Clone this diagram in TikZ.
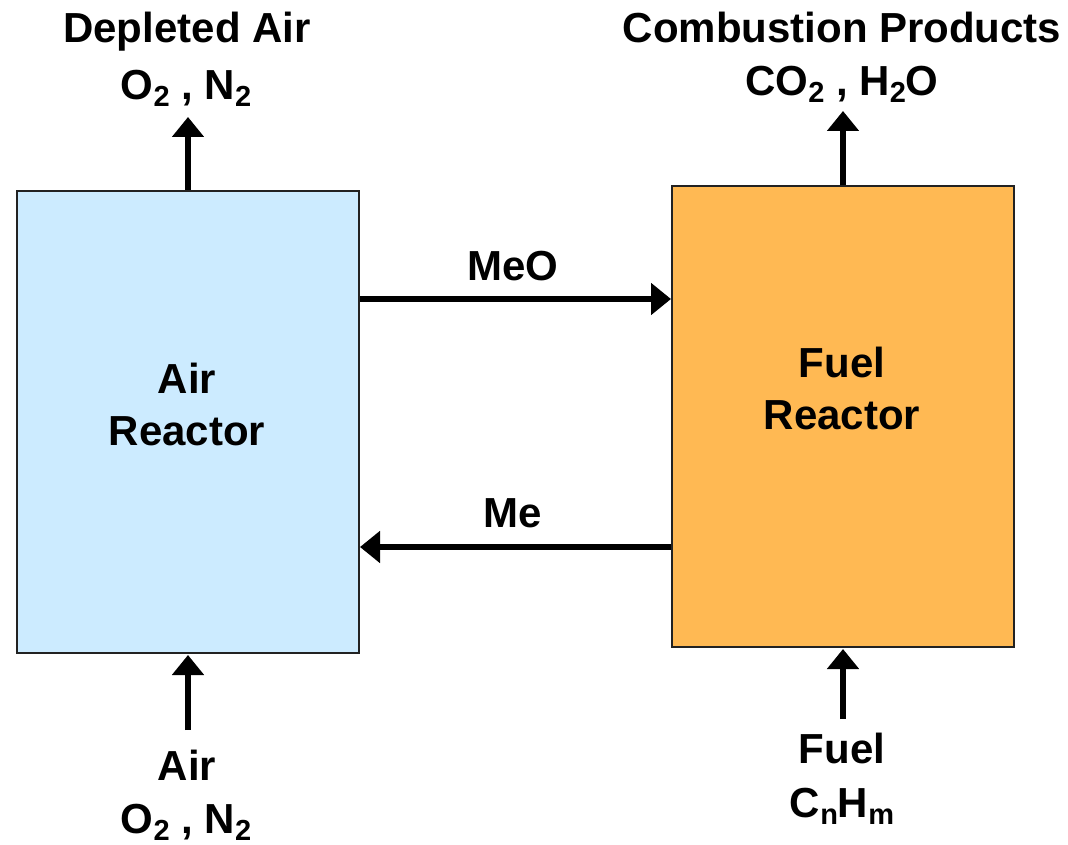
\documentclass[tikz,border=0pt]{standalone}
\usepackage{fontspec}
\setmainfont{Liberation Sans}
\usetikzlibrary{arrows.meta}
\definecolor{airblue}{HTML}{CCEBFF}
\definecolor{fuelorange}{HTML}{FFB953}
\definecolor{edgegray}{HTML}{222222}
\newcommand\sbs[1]{\raisebox{-7pt}{\fontsize{29}{29}\selectfont #1}}
\begin{document}
\begin{tikzpicture}[x=1pt,y=-1pt,
  reactor/.style={draw=edgegray,line width=2pt,rectangle,anchor=north west,inner sep=0pt},
  lbl/.style={font=\fontsize{42}{50}\selectfont\bfseries,anchor=base,inner sep=0pt},
  flow/.style={line width=5.5pt,-{Triangle[length=20pt,width=31pt]}}]
\useasboundingbox (0,0) rectangle (1068,845);
\node[reactor,fill=airblue,minimum width=342pt,minimum height=462pt] (air) at (16,190) {};
\node[reactor,fill=fuelorange,minimum width=342pt,minimum height=461pt] (fuel) at (671,185) {};
% reactor labels
\node[lbl] (airt1) at (187,393) {Air};
\node[lbl] (airt2) at (187,445) {Reactor};
\node[lbl] (fuelt1) at (842,377) {Fuel};
\node[lbl] (fuelt2) at (842,429) {Reactor};
% top labels
\node[lbl] (dep1) at (187,43) {Depleted Air};
\node[lbl] (dep2) at (186,100) {O\sbs{2} , N\sbs{2}};
\node[lbl] (comb1) at (842,43) {Combustion Products};
\node[lbl] (comb2) at (842,96) {CO\sbs{2} , H\sbs{2}O};
% bottom labels
\node[lbl] (in1) at (187,780) {Air};
\node[lbl] (in2) at (186,833) {O\sbs{2} , N\sbs{2}};
\node[lbl] (fin1) at (842,763) {Fuel};
\node[lbl] (fin2) at (842,817) {C\sbs{n}H\sbs{m}};
% middle labels
\node[lbl] (meo) at (513,280) {MeO};
\node[lbl] (me) at (513,527) {Me};
% coordinates
\coordinate (deptip) at ([yshift=73pt]air.north);
\coordinate (combtip) at ([yshift=74pt]fuel.north);
\coordinate (airtail) at ([yshift=-76pt]air.south);
\coordinate (fueltail) at ([yshift=-71pt]fuel.south);
\coordinate (meoA) at ([yshift=-109pt]air.north east);
\coordinate (meA) at ([yshift=-357pt]air.north east);
% connectors
\draw[flow] (air.north) -- (deptip);
\draw[flow] (fuel.north) -- (combtip);
\draw[flow] (airtail) -- ([yshift=-1pt]air.south);
\draw[flow] (fueltail) -- ([yshift=-1pt]fuel.south);
\draw[flow] (meoA) -- (fuel.west |- meoA);
\draw[flow] (fuel.west |- meA) -- (meA);
\end{tikzpicture}
\end{document}
